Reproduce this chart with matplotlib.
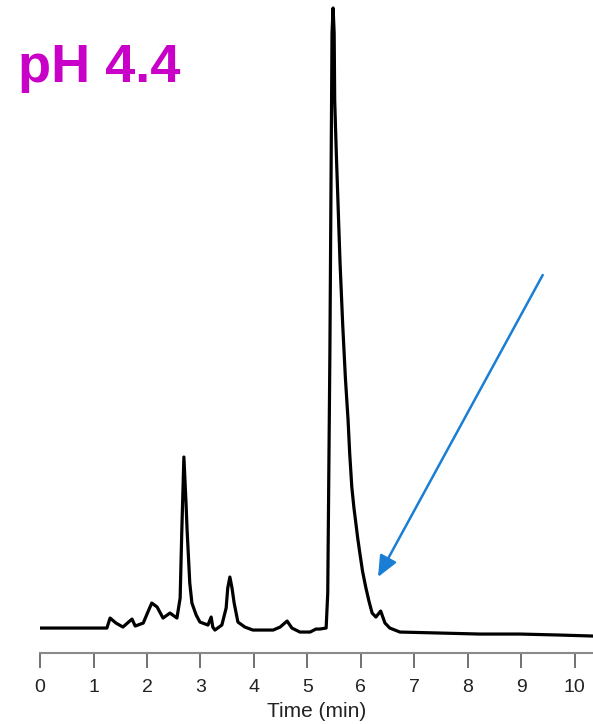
import matplotlib
matplotlib.use("Agg")
import matplotlib.pyplot as plt

plt.rcParams['font.family'] = ['Liberation Sans', 'DejaVu Sans']

# chromatogram (time in min, signal in arbitrary units)
time_min = [0.00, 0.37, 0.75, 1.25, 1.31, 1.42, 1.55, 1.72, 1.78, 1.93,
            2.04, 2.09, 2.19, 2.30, 2.43, 2.56, 2.62, 2.65, 2.69, 2.73,
            2.75, 2.80, 2.84, 2.92, 2.99, 3.14, 3.20, 3.23, 3.27, 3.40,
            3.48, 3.51, 3.55, 3.59, 3.63, 3.70, 3.83, 3.98, 4.36, 4.49,
            4.62, 4.71, 4.86, 5.05, 5.16, 5.23, 5.35, 5.38, 5.42, 5.46,
            5.48, 5.50, 5.51, 5.54, 5.57, 5.61, 5.66, 5.71, 5.76, 5.79,
            5.83, 5.87, 5.91, 5.94, 5.98, 6.03, 6.09, 6.15, 6.21, 6.28,
            6.37, 6.45, 6.54, 6.73, 7.48, 8.22, 8.97, 9.72, 10.34]
signal = [25, 25, 25, 25, 35, 30, 26, 34, 27, 30,
          44, 50, 46, 35, 40, 35, 55, 120, 196, 150,
          123, 70, 50, 38, 31, 28, 36, 26, 23, 28,
          45, 65, 76, 65, 50, 31, 26, 23, 23, 26,
          32, 25, 21, 21, 24, 24, 25, 60, 300, 620,
          645, 620, 553, 500, 453, 390, 328, 275, 233, 200,
          166, 145, 128, 115, 100, 82, 66, 52, 40, 36,
          42, 30, 25, 21, 20, 19, 19, 18, 17]

xticks = list(range(0, 11))
title = "pH 4.4"
xlabel = "Time (min)"

# arrow pointing at the shoulder peak (time, signal)
arrow_tail = (9.40, 378)
arrow_head = (6.32, 76)

fig = plt.figure(figsize=(5.93, 7.24), dpi=100)
ax = fig.add_axes([0.0675, 0.098, 0.9325, 0.902])

ax.plot(time_min, signal, color='black', lw=2.3, solid_joinstyle='round')

ax.set_xlim(0, 10.34)
ax.set_ylim(0, 653)
ax.set_yticks([])
for side in ['left', 'right', 'top']:
    ax.spines[side].set_visible(False)
ax.spines['bottom'].set_color('#8a8a8a')
ax.spines['bottom'].set_linewidth(1.5)

ax.set_xticks(xticks)
ax.tick_params(axis='x', length=11, width=1.3, color='#666666',
               labelsize=14, labelcolor='#222222', pad=8)
ax.set_xlabel(xlabel, fontsize=15, color='#222222', labelpad=4)

ax.annotate('', xy=arrow_head, xytext=arrow_tail,
            arrowprops=dict(arrowstyle='-|>,head_length=0.8,head_width=0.35',
                            mutation_scale=16, color='#1a7fd4', lw=1.8,
                            shrinkA=0, shrinkB=0))

fig.text(18 / 593, 1 - 82 / 724, title, fontsize=39, fontweight='bold',
         color='#c800c8', ha='left', va='baseline')

fig.savefig('out.png', dpi=100)
